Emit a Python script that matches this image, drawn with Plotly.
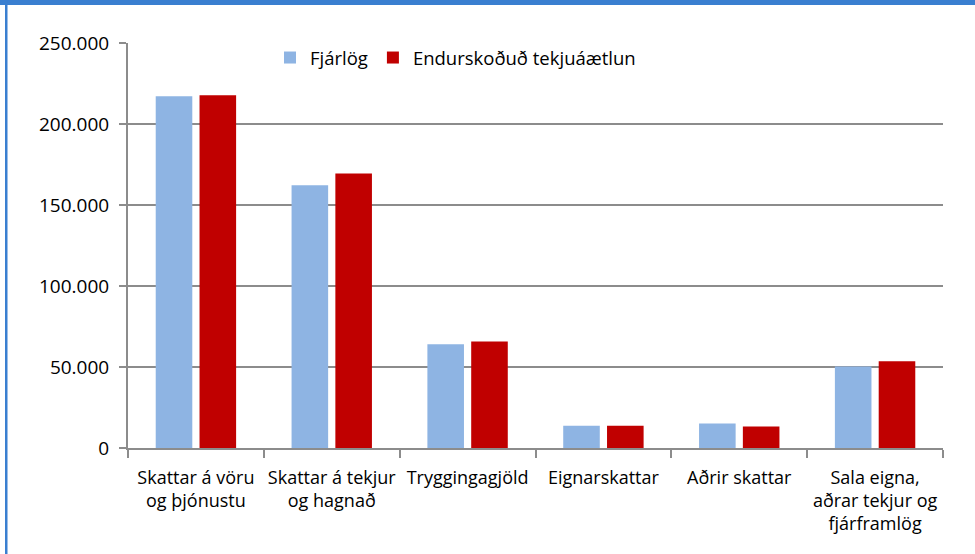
import plotly.graph_objects as go

categories = [
    "Skattar á vöru<br>og þjónustu",
    "Skattar á tekjur<br>og hagnað",
    "Tryggingagjöld",
    "Eignarskattar",
    "Aðrir skattar",
    "Sala eigna,<br>aðrar tekjur og<br>fjárframlög",
]
fjarlog = [217100, 162200, 64000, 13800, 15200, 50300]
endurskodud = [217700, 169400, 65700, 13700, 13200, 53500]
series_names = ["Fjárlög", "Endurskoðuð tekjuáætlun"]
y_ticks = [0, 50000, 100000, 150000, 200000, 250000]

W, H = 975, 554
ML, MR, MT, MB = 128, 32, 43, 106
FONT = "Open Sans"
FS = 18

fig = go.Figure()
fig.add_trace(go.Bar(x=categories, y=fjarlog, name=series_names[0],
                     marker=dict(color="#8EB4E3", line=dict(width=0))))
fig.add_trace(go.Bar(x=categories, y=endurskodud, name=series_names[1],
                     marker=dict(color="#C00000", line=dict(width=0))))

pw = W - ML - MR
ph = H - MT - MB
def px_x(p):
    return (p - ML) / pw
def px_y(p):
    return (H - MB - p) / ph

shapes = [
    dict(type="rect", xref="paper", yref="paper", x0=px_x(0), x1=px_x(W), y0=px_y(5), y1=px_y(0),
         fillcolor="#3A7FD0", line=dict(width=0), layer="above"),
    dict(type="rect", xref="paper", yref="paper", x0=px_x(5), x1=px_x(7.5), y0=px_y(H), y1=px_y(0),
         fillcolor="#3A7FD0", line=dict(width=0), layer="above"),
]

fig.update_layout(
    width=W, height=H,
    margin=dict(l=ML, r=MR, t=MT, b=MB),
    paper_bgcolor="white", plot_bgcolor="white",
    separators=",.",
    barmode="group", bargap=0.355, bargroupgap=0.165,
    font=dict(family=FONT, size=FS, color="#000000"),
    showlegend=True,
    legend=dict(orientation="h", x=px_x(270), y=px_y(39), xanchor="left", yanchor="top",
                font=dict(family=FONT, size=18.5, color="#000000"),
                bgcolor="rgba(0,0,0,0)", itemwidth=30, traceorder="normal"),
    shapes=shapes,
    xaxis=dict(showline=True, linecolor="#8C8C8C", linewidth=2,
               ticks="outside", tickson="boundaries", ticklen=8, tickcolor="#8C8C8C", tickwidth=2,
               showgrid=False, tickfont=dict(family=FONT, size=FS, color="#000000"),
               tickangle=0, ticklabelstandoff=12),
    yaxis=dict(range=[0, 250000], tickvals=y_ticks, tickformat=",d",
               showline=True, linecolor="#8C8C8C", linewidth=2,
               ticks="outside", ticklen=7, tickcolor="#8C8C8C", tickwidth=2,
               showgrid=True, gridcolor="#8C8C8C", gridwidth=2,
               zeroline=False, ticklabelstandoff=6,
               tickfont=dict(family=FONT, size=19, color="#000000")),
)

fig.write_html("out.html", config={"displayModeBar": False},
               post_script="document.body.style.margin='0px';document.body.style.padding='0px';")
